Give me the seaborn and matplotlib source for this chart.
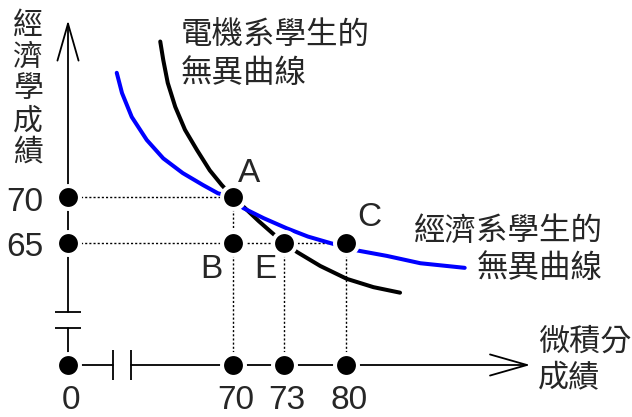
import numpy as np
import pandas as pd
import seaborn as sns
import matplotlib
matplotlib.use('Agg')
from matplotlib import pyplot as plt

# points on the diagram: (calculus score, economics score)
point_labels = ['A', 'B', 'E', 'C']
point_x = [70, 70, 73, 80]
point_y = [70, 65, 65, 65]
x_ticks = [0, 70, 73, 80]
y_ticks = [70, 65]

# indifference curves
ee_x = [60.3, 60.7, 61.3, 62.3, 63.6, 65.2, 66.9, 68.5, 70.0, 70.7, 71.5, 72.3,
        73.0, 74.5, 77.1, 80.1, 83.1, 86.1]
ee_y = [86.9, 84.9, 82.4, 79.8, 77.3, 75.1, 72.9, 71.3, 70.0, 68.8, 67.4, 66.1,
        65.0, 64.0, 62.5, 61.1, 60.2, 59.6]
econ_x = [54.5, 55.2, 56.5, 58.5, 60.7, 63.3, 66.0, 68.0, 70.0, 70.6, 71.8, 73.3,
          75.7, 78.2, 81.2, 84.6, 88.4, 93.4]
econ_y = [83.5, 81.3, 78.7, 76.2, 74.2, 72.6, 71.3, 70.4, 70.0, 68.8, 67.7, 66.6,
          65.7, 65.0, 64.2, 63.6, 62.8, 62.3]

# schematic (broken, uneven) axes: score -> pixel
X_SCORE = [-200, 0, 54, 70, 73, 80, 200]
X_PIX = [-132, 68, 113, 233, 284, 346, 1409]
Y_SCORE = [-200, 0, 40, 57.5, 65, 70, 200]
Y_PIX = [-148, 52, 89, 105, 174, 220, 1416]
X_BREAK = [54, 56.4]
Y_BREAK = [40, 57.5]
X_END = 100.8
Y_END = 89.2


def fx(v):
    return np.interp(v, X_SCORE, X_PIX)


def fx_inv(p):
    return np.interp(p, X_PIX, X_SCORE)


def fy(v):
    return np.interp(v, Y_SCORE, Y_PIX)


def fy_inv(p):
    return np.interp(p, Y_PIX, Y_SCORE)


sns.set_theme(style='white')
plt.rcParams['font.family'] = ['Liberation Sans', 'Noto Sans CJK TC']
CJK = ['Noto Sans CJK TC', 'DejaVu Sans']
PX = 72 / 100  # points per pixel

fig = plt.figure(figsize=(6.32, 4.17), dpi=100)
ax = fig.add_axes([0, 0, 1, 1])
ax.set_xscale('function', functions=(fx, fx_inv))
ax.set_yscale('function', functions=(fy, fy_inv))
ax.set_xlim(fx_inv(0), fx_inv(632))
ax.set_ylim(fy_inv(0), fy_inv(417))
ax.axis('off')

axis_kw = dict(color='black', lw=1.3)
arrow = dict(arrowstyle='->,head_length=2.66,head_width=0.76', mutation_scale=10,
             color='black', lw=1.3, shrinkA=0, shrinkB=0)

# axes with breaks
ax.plot([0, X_BREAK[0]], [0, 0], **axis_kw)
ax.annotate('', xy=(X_END, 0), xytext=(X_BREAK[1], 0), arrowprops=arrow)
ax.plot([0, 0], [0, Y_BREAK[0]], **axis_kw)
ax.annotate('', xy=(0, Y_END), xytext=(0, Y_BREAK[1]), arrowprops=arrow)
ax.plot(X_BREAK, [0, 0], ls='none', marker='|', ms=30 * PX, mew=1.3, color='black')
ax.plot([0, 0], Y_BREAK, ls='none', marker='_', ms=27 * PX, mew=1.3, color='black')

# dotted guide lines from the points to the axes
dot_kw = dict(color='black', lw=1.0, ls=(0, (1.5, 1.5)))
for xv in x_ticks[1:]:
    top = max(py for px_, py in zip(point_x, point_y) if px_ == xv)
    ax.plot([xv, xv], [0, top], **dot_kw)
for yv in y_ticks:
    right = max(px_ for px_, py in zip(point_x, point_y) if py == yv)
    ax.plot([0, right], [yv, yv], **dot_kw)

# indifference curves
curves = pd.DataFrame({
    'x': ee_x + econ_x,
    'y': ee_y + econ_y,
    'curve': ['ee'] * len(ee_x) + ['econ'] * len(econ_x),
})
sns.lineplot(data=curves, x='x', y='y', hue='curve', palette={'ee': 'black', 'econ': '#0000ff'},
             sort=False, estimator=None, lw=2.9, legend=False, ax=ax)

# dots
dots = pd.DataFrame({
    'x': point_x + x_ticks + [0] * len(y_ticks),
    'y': point_y + [0] * len(x_ticks) + y_ticks,
})
sns.scatterplot(data=dots, x='x', y='y', s=272, color='black', edgecolor='white',
                linewidth=2.9, zorder=5, ax=ax)

# labels
for lab, xv, yv, off in zip(point_labels, point_x, point_y,
                            [(16, 15), (-22, -34.5), (-18.5, -34.5), (23, 17.5)]):
    ax.annotate(lab, (xv, yv), xytext=(off[0] * PX, off[1] * PX), textcoords='offset points',
                ha='center', va='baseline', fontsize=24)
for xv in x_ticks:
    ax.annotate(str(xv), (xv, 0), xytext=(3 * PX, -44 * PX), textcoords='offset points',
                ha='center', va='baseline', fontsize=24)
for yv in y_ticks:
    ax.annotate(str(yv), (0, yv), xytext=(-25 * PX, -13.5 * PX), textcoords='offset points',
                ha='right', va='baseline', fontsize=24)

W, H = 632, 417
fig.text(28 / W, 1 - 10 / H, '經\n濟\n學\n成\n績', ha='center', va='top',
         fontsize=21.5, family=CJK, linespacing=1.03)
fig.text(181 / W, 1 - 20 / H, '電機系學生的\n無異曲線', ha='left', va='top',
         fontsize=22.7, family=CJK, linespacing=1.2)
fig.text(603 / W, 1 - 215 / H, '經濟系學生的\n無異曲線', ha='right', va='top',
         multialignment='right', fontsize=22.7, family=CJK, linespacing=1.2)
fig.text(538 / W, 1 - 327 / H, '微積分\n成績', ha='left', va='top',
         fontsize=22.4, family=CJK, linespacing=1.2)

fig.savefig('out.png', dpi=100)
